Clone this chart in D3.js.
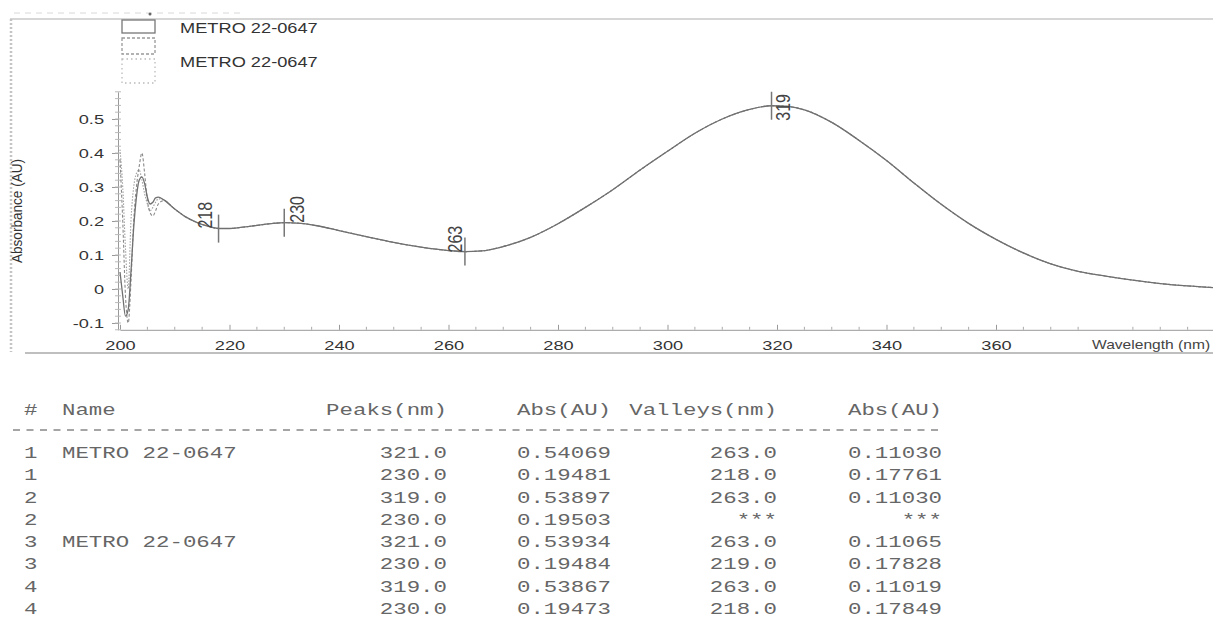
<!DOCTYPE html>
<html>
<head>
<meta charset="utf-8">
<script src="https://cdn.jsdelivr.net/npm/d3@7"></script>
<style>
  body { margin: 0; background: #fff; }
  svg { display: block; }
</style>
</head>
<body>
<div id="chart"></div>
<script>
// ---- data ----
const legendLabels = ["METRO 22-0647", "METRO 22-0647"]

const xTicks = [200, 220, 240, 260, 280, 300, 320, 340, 360]
const yTicks = [-0.1, 0, 0.1, 0.2, 0.3, 0.4, 0.5]
const yTickLabels = ["-0.1", "0", "0.1", "0.2", "0.3", "0.4", "0.5"]

// noisy start of the spectrum, one row per overlaid run
const headWl = [200, 200.5, 201, 201.5, 202, 202.5, 203, 203.5, 204, 204.5, 205, 205.5, 206, 206.5, 207, 208]
const run1Head = [0.05, -0.02, -0.08, -0.06, 0.05, 0.18, 0.27, 0.32, 0.33, 0.31, 0.27, 0.25, 0.255, 0.268, 0.27, 0.262]
const run2Head = [0.38, 0.2, -0.02, -0.1, 0.02, 0.2, 0.3, 0.36, 0.40, 0.34, 0.26, 0.225, 0.215, 0.23, 0.25, 0.26]
const run3Head = [0.41, 0.3, 0.12, 0.0, 0.2, 0.3, 0.34, 0.35, 0.32, 0.28, 0.25, 0.23, 0.24, 0.255, 0.265, 0.262]

// the part where all runs lie on top of each other
const tailWl = [210, 212, 214, 216, 218, 220, 222, 225, 228, 230, 233, 236, 240, 245, 250, 255, 260, 263, 266, 270,
    275, 280, 285, 290, 295, 300, 305, 310, 315, 319, 322, 325, 330, 335, 340, 345, 350, 355, 360, 365, 370, 375,
    380, 385, 390, 395, 400]
const tailAbs = [0.235, 0.212, 0.196, 0.185, 0.178, 0.178, 0.181, 0.187, 0.193, 0.195, 0.193, 0.186, 0.172, 0.154,
    0.137, 0.123, 0.113, 0.110, 0.112, 0.125, 0.152, 0.192, 0.24, 0.292, 0.35, 0.405, 0.458, 0.5, 0.528, 0.539,
    0.537, 0.527, 0.49, 0.437, 0.378, 0.312, 0.249, 0.193, 0.146, 0.106, 0.074, 0.052, 0.038, 0.026, 0.016, 0.009, 0.004]

// marked peaks / valleys on the plot
const markWl = [218, 230, 263, 319]
const markAbs = [0.17761, 0.19503, 0.11030, 0.53897]

// result table
const tableHeader = ["#", "Name", "Peaks(nm)", "Abs(AU)", "Valleys(nm)", "Abs(AU)"]
const rowIds = ["1", "1", "2", "2", "3", "3", "4", "4"]
const rowNames = ["METRO 22-0647", "", "", "", "METRO 22-0647", "", "", ""]
const peaksNm = ["321.0", "230.0", "319.0", "230.0", "321.0", "230.0", "319.0", "230.0"]
const peaksAbs = ["0.54069", "0.19481", "0.53897", "0.19503", "0.53934", "0.19484", "0.53867", "0.19473"]
const valleysNm = ["263.0", "218.0", "263.0", "***", "263.0", "219.0", "263.0", "218.0"]
const valleysAbs = ["0.11030", "0.17761", "0.11030", "***", "0.11065", "0.17828", "0.11019", "0.17849"]

// ---- layout ----
const width = 1213
const height = 618
const sx = 1.4          // the scan is stretched sideways
const sansFont = "'Liberation Sans', Arial, sans-serif"
const monoFont = "'Courier New', 'Liberation Mono', monospace"

const svg = d3.select("#chart").append("svg")
    .attr("width", width)
    .attr("height", height)

const x = d3.scaleLinear().domain([200, 400]).range([120, 1215])
const y = d3.scaleLinear().domain([-0.12, 0.58]).range([329.8, 91.8])

// outer frame of the print
svg.append("line").attr("x1", 10).attr("x2", width).attr("y1", 19).attr("y2", 19)
    .attr("stroke", "#c8c8c8").attr("stroke-width", 1.5)
svg.append("line").attr("x1", 14).attr("x2", 240).attr("y1", 13).attr("y2", 13)
    .attr("stroke", "#d8d8d8").attr("stroke-dasharray", "6 5")
svg.append("circle").attr("cx", 150).attr("cy", 14).attr("r", 1.5).attr("fill", "#666")
svg.append("line").attr("x1", 11).attr("x2", 11).attr("y1", 19).attr("y2", 352)
    .attr("stroke", "#c4c4c4").attr("stroke-width", 2.5).attr("stroke-dasharray", "2 2")
svg.append("line").attr("x1", 25).attr("x2", width).attr("y1", 353).attr("y2", 353)
    .attr("stroke", "#aaa").attr("stroke-width", 1.5)

// legend
const legendBoxes = [
    { y: 20, h: 13, dash: null, color: "#777" },
    { y: 38, h: 16, dash: "3 2", color: "#999" },
    { y: 59, h: 24, dash: "1.5 3", color: "#bbb" }
]
svg.selectAll(".lbox").data(legendBoxes).join("rect")
    .attr("class", "lbox")
    .attr("x", 122).attr("y", d => d.y)
    .attr("width", 33).attr("height", d => d.h)
    .attr("fill", "none")
    .attr("stroke", d => d.color)
    .attr("stroke-width", 1.3)
    .attr("stroke-dasharray", d => d.dash)

svg.selectAll(".ltext").data(legendLabels).join("text")
    .attr("class", "ltext")
    .attr("transform", (d, i) => `translate(180, ${33 + i * 34}) scale(${sx * 0.93}, 1)`)
    .attr("font-family", sansFont)
    .attr("font-size", 14)
    .attr("fill", "#333")
    .text(d => d)

// axes
const xAxis = svg.append("g")
    .attr("transform", `translate(0, ${y(-0.12)})`)
    .call(d3.axisBottom(x).tickValues(xTicks).tickSize(-5).tickSizeOuter(0).tickPadding(11))
xAxis.select(".domain").attr("stroke", "#999")
xAxis.selectAll(".tick line").attr("stroke", "#999")
xAxis.selectAll("text")
    .attr("font-family", sansFont).attr("font-size", 13).attr("fill", "#333")
    .attr("transform", `scale(${sx}, 1)`)

const yAxis = svg.append("g")
    .attr("transform", `translate(${x(200) - 2}, 0)`)
    .call(d3.axisLeft(y).tickValues(yTicks).tickFormat((d, i) => yTickLabels[i])
        .tickSize(6).tickSizeOuter(0).tickPadding(4))
yAxis.select(".domain").attr("stroke", "#999")
yAxis.selectAll(".tick line").attr("stroke", "#999")
yAxis.selectAll("text")
    .attr("font-family", sansFont).attr("font-size", 13).attr("fill", "#333")
    .attr("transform", `scale(${sx}, 1)`)

// minor ticks
svg.append("g").selectAll("line").data(d3.range(205, 401, 5).filter(d => d % 20 !== 0)).join("line")
    .attr("x1", d => x(d)).attr("x2", d => x(d))
    .attr("y1", y(-0.12)).attr("y2", y(-0.12) - 3)
    .attr("stroke", "#aaa")
svg.append("g").selectAll("line").data(d3.range(-0.12, 0.581, 0.02)).join("line")
    .attr("x1", x(200) - 5).attr("x2", x(200) + 1)
    .attr("y1", d => y(d)).attr("y2", d => y(d))
    .attr("stroke", "#bbb")

// axis titles
svg.append("text")
    .attr("transform", `translate(22, 263) scale(1.3, 1) rotate(-90)`)
    .attr("font-family", sansFont).attr("font-size", 11).attr("fill", "#333")
    .attr("textLength", 104).attr("lengthAdjust", "spacingAndGlyphs")
    .text("Absorbance (AU)")

svg.append("text")
    .attr("transform", `translate(1092, 349) scale(1.3, 1)`)
    .attr("font-family", sansFont).attr("font-size", 12).attr("fill", "#444")
    .text("Wavelength (nm)")

// spectra
const tail = tailWl.map((w, i) => ({ wl: w, abs: tailAbs[i] }))
const runs = [
    { head: run1Head, color: "#707070", width: 1.3, dash: null },
    { head: run2Head, color: "#8a8a8a", width: 1.1, dash: "3 2" },
    { head: run3Head, color: "#a0a0a0", width: 1.1, dash: "1.5 1.5" }
].map(r => ({ ...r, points: headWl.map((w, i) => ({ wl: w, abs: r.head[i] })).concat(tail) }))

const line = d3.line()
    .x(d => x(d.wl))
    .y(d => y(d.abs))
    .curve(d3.curveMonotoneX)

svg.append("g").selectAll("path").data(runs.slice().reverse()).join("path")
    .attr("d", d => line(d.points))
    .attr("fill", "none")
    .attr("stroke", d => d.color)
    .attr("stroke-width", d => d.width)
    .attr("stroke-dasharray", d => d.dash)

// peak / valley markers
const labelOffsets = { 218: [-7, 0], 230: [20, 0], 263: [-3, 1], 319: [18, 15] }
const marks = markWl.map((w, i) => ({ wl: w, abs: markAbs[i] }))

svg.append("g").selectAll("line").data(marks).join("line")
    .attr("x1", d => x(d.wl)).attr("x2", d => x(d.wl))
    .attr("y1", d => y(d.abs) - 14).attr("y2", d => y(d.abs) + 14)
    .attr("stroke", "#777").attr("stroke-width", 1.5)

svg.append("g").selectAll("text").data(marks).join("text")
    .attr("transform", d => {
        const o = labelOffsets[d.wl]
        return `translate(${x(d.wl) + o[0]}, ${y(d.abs) + o[1]}) scale(1.3, 1) rotate(-90)`
    })
    .attr("font-family", sansFont).attr("font-size", 16).attr("fill", "#444")
    .text(d => d.wl)

// result table
const colX = [24, 62, 447, 611, 777, 942]
const colAnchor = ["start", "start", "end", "end", "end", "end"]
const rowY0 = 458
const rowStep = 22.28

const table = svg.append("g")
    .attr("font-family", monoFont)
    .attr("font-size", 16)
    .attr("fill", "#666")

table.selectAll(".th").data(tableHeader).join("text")
    .attr("class", "th")
    .attr("transform", (d, i) => `translate(${colX[i]}, 415) scale(${sx}, 1)`)
    .attr("text-anchor", (d, i) => colAnchor[i])
    .text(d => d)

table.append("line")
    .attr("x1", 13).attr("x2", 942).attr("y1", 430).attr("y2", 430)
    .attr("stroke", "#888").attr("stroke-width", 1.3).attr("stroke-dasharray", "7 6.5")

const columns = [rowIds, rowNames, peaksNm, peaksAbs, valleysNm, valleysAbs]
columns.forEach((col, c) => {
    table.append("g").selectAll("text").data(col).join("text")
        .attr("transform", (d, i) => `translate(${colX[c]}, ${rowY0 + i * rowStep}) scale(${sx}, 1)`)
        .attr("text-anchor", colAnchor[c])
        .text(d => d)
})
</script>
</body>
</html>
